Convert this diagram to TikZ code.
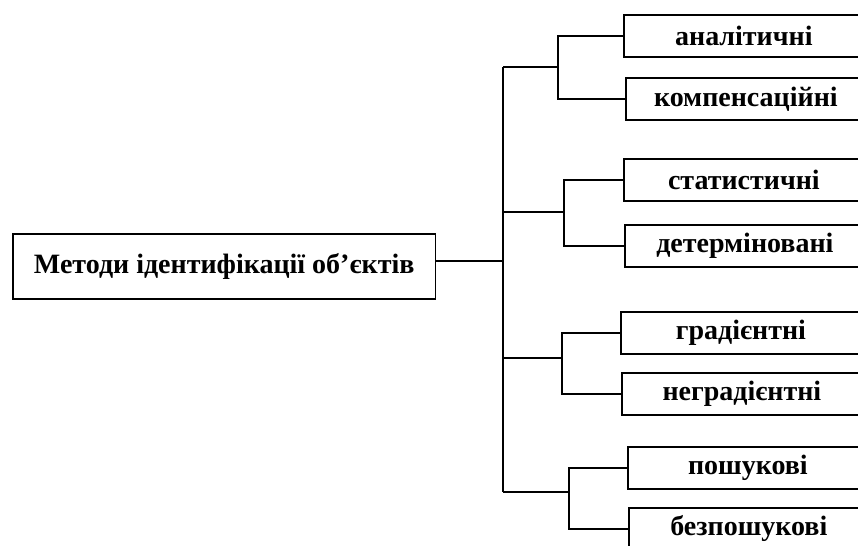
\documentclass[tikz,border=0pt]{standalone}
\usepackage{fontspec}
\setmainfont{Liberation Serif}
\usetikzlibrary{positioning}

\begin{document}
\begin{tikzpicture}[x=0.75pt,y=-0.75pt,line width=1.3pt,
    rootbox/.style={draw,anchor=north west,minimum width=317pt,minimum height=48.75pt,inner sep=0pt,font=\bfseries\fontsize{21}{24}\selectfont},
    leafbox/.style={draw,anchor=north west,minimum width=180pt,minimum height=31.5pt,inner sep=0pt,font=\bfseries\fontsize{21}{24}\selectfont}]
            \useasboundingbox (0,0) rectangle (858,546);
            \node[rootbox] (root) at (12,233) {Методи ідентифікації об’єктів};
            \node[leafbox] (anal) at (623,14) {аналітичні};
            \node[leafbox] (komp) at (625,77) {компенсаційні};
            \node[leafbox] (stat) at (623,158) {статистичні};
            \node[leafbox] (det) at (624,224) {детерміновані};
            \node[leafbox] (grad) at (620,311) {градієнтні};
            \node[leafbox] (negrad) at (621,372) {неградієнтні};
            \node[leafbox] (posh) at (627,446) {пошукові};
            \node[leafbox] (bezposh) at (628,507) {безпошукові};
            \coordinate (spinetop) at (503,67);
            \coordinate (spinebot) at (503,492);
            \coordinate (knee1) at (558,67);
            \coordinate (knee2) at (564,212);
            \coordinate (knee3) at (562,358);
            \coordinate (knee4) at (569,492);
            \coordinate (rootout) at ([yshift=4.125pt]root.east);
            \draw (rootout) -- (rootout -| spinetop);
            \draw (spinetop) -- (spinebot);
            \draw (spinetop) -- (knee1);
            \draw (knee2 -| spinetop) -- (knee2);
            \draw (knee3 -| spinetop) -- (knee3);
            \draw (spinebot) -- (knee4);
            \draw (anal.west) -| (knee1) |- (komp.west);
            \draw (stat.west) -| (knee2) |- (det.west);
            \draw (grad.west) -| (knee3) |- (negrad.west);
            \draw (posh.west) -| (knee4) |- (bezposh.west);
        \end{tikzpicture}
\end{document}
